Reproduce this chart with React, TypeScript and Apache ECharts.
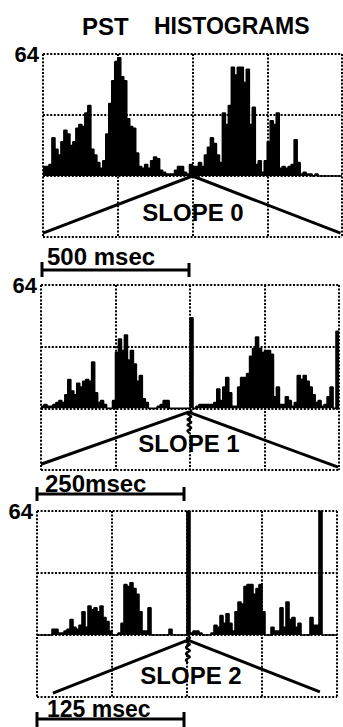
import React, { useEffect, useRef } from "react";
import * as echarts from "echarts";

// Post-stimulus-time histograms: 100 bins per sweep, counts 0..64
const BIN_COUNT = 100;
const Y_MAX = 64;

const slope0Counts = [
  5, 5, 6, 20, 14, 11, 18, 24, 22, 16,
  18, 25, 27, 26, 33, 37, 14, 11, 7, 4,
  8, 22, 38, 50, 60, 62, 52, 50, 30, 26,
  25, 12, 5, 4, 6, 4, 8, 10, 9, 3,
  2, 1, 1, 1, 3, 5, 5, 2, 1, 6,
  5, 5, 7, 5, 11, 15, 20, 17, 11, 7,
  33, 27, 37, 57, 53, 57, 57, 49, 56, 27,
  36, 6, 8, 2, 8, 18, 29, 27, 33, 4,
  5, 4, 5, 6, 19, 7, 1, 2, 1, 1,
  0, 1, 0, 0, 0, 0, 0, 0, 0, 0,
];

const slope1Counts = [
  1, 2, 1, 1, 2, 3, 4, 3, 7, 15,
  9, 7, 13, 11, 14, 15, 14, 24, 8, 3,
  4, 2, 0, 0, 4, 29, 36, 30, 38, 25,
  30, 23, 14, 17, 5, 3, 0, 0, 0, 1,
  2, 4, 4, 0, 0, 0, 0, 0, 0, 0,
  47, 0, 1, 2, 2, 2, 2, 2, 3, 10,
  4, 11, 16, 8, 1, 1, 11, 16, 16, 18,
  27, 31, 37, 31, 29, 30, 30, 28, 6, 11,
  2, 2, 6, 4, 1, 3, 17, 15, 17, 14,
  11, 7, 3, 4, 1, 2, 6, 11, 0, 40,
];

const slope2Counts = [
  0, 0, 0, 0, 0, 3, 3, 1, 1, 2,
  3, 8, 4, 3, 5, 12, 4, 15, 13, 14,
  12, 15, 9, 7, 2, 0, 0, 1, 6, 26,
  25, 27, 24, 21, 12, 2, 2, 14, 0, 0,
  0, 0, 0, 0, 3, 0, 0, 0, 0, 0,
  64, 1, 2, 2, 1, 0, 0, 0, 1, 5,
  4, 10, 6, 11, 6, 2, 12, 17, 16, 25,
  26, 26, 21, 24, 26, 12, 0, 0, 4, 2,
  2, 14, 4, 17, 8, 9, 4, 6, 0, 0,
  0, 9, 5, 5, 64, 0, 0, 0, 0, 0,
];

// Stimulus waveform traces drawn below each histogram (bin, level)
const slope0Ramp = [[0, -30], [50, 0], [99.5, -30]];
const slope1Ramp = [[0, -29], [49.5, -2], [99.7, -30.5]];
const slope2Ramp = [[5.3, -30], [50.3, -2.6], [94.3, -29.4]];

// Break marks at the sweep midpoint: [bin, depth]
const slope1Break = [49.8, 13];
const slope2Break = [50.3, 14.5];

const slopeLabels = ["SLOPE 0", "SLOPE 1", "SLOPE 2"];
const timeBarLabels = ["500 msec", "250msec", "125 msec"];

const FONT = '"Liberation Sans", Arial, sans-serif';
const INK = "#000";

const panelGrids = [
  { left: 43, top: 54, width: 299, height: 183 },
  { left: 41, top: 285, width: 298, height: 185 },
  { left: 37, top: 511, width: 300, height: 186 },
];

const dotted = { color: INK, width: 2, type: [2, 1.6] as number[] };

function histData(counts: number[]) {
  const pts = counts.map((v, i) => [i, v]);
  pts.push([BIN_COUNT, counts[counts.length - 1]]);
  return pts;
}

function zigzag(mark: number[]) {
  const [cx, depth] = mark;
  const steps = 9;
  const pts: number[][] = [];
  for (let k = 0; k <= steps; k++) {
    const dx = k === 0 || k === steps ? 0 : k % 2 ? 0.75 : -0.75;
    pts.push([cx + dx, -(depth * k) / steps]);
  }
  return pts;
}

function textEl(text: string, x: number, y: number, size: number, align: string) {
  return {
    type: "text",
    style: {
      text,
      x,
      y,
      font: `bold ${size}px ${FONT}`,
      fill: INK,
      align,
      verticalAlign: "middle",
      textAlign: align,
      textVerticalAlign: "middle",
    },
  };
}

function lineEl(x1: number, y1: number, x2: number, y2: number) {
  return {
    type: "line",
    shape: { x1, y1, x2, y2 },
    style: { stroke: INK, lineWidth: 3 },
  };
}

export default function App() {
  const ref = useRef<HTMLDivElement>(null);

  useEffect(() => {
    if (!ref.current) return;
    const chart = echarts.init(ref.current, null, { renderer: "svg" });

    const countsList = [slope0Counts, slope1Counts, slope2Counts];
    const ramps = [slope0Ramp, slope1Ramp, slope2Ramp];
    const breaks = [null, slope1Break, slope2Break];

    const xAxis = panelGrids.map((_, i) => ({
      type: "value",
      gridIndex: i,
      min: 0,
      max: BIN_COUNT,
      interval: 25,
      axisLine: { show: false },
      axisTick: { show: false },
      axisLabel: { show: false },
      splitLine: { show: true, lineStyle: dotted },
    }));

    const yAxis = panelGrids.map((_, i) => ({
      type: "value",
      gridIndex: i,
      min: -32,
      max: Y_MAX,
      interval: 32,
      axisLine: { show: false },
      axisTick: { show: false },
      axisLabel: {
        show: true,
        formatter: (v: number) => (v === Y_MAX ? String(Y_MAX) : ""),
        color: INK,
        fontSize: 22,
        fontWeight: "bold",
        fontFamily: FONT,
        margin: 4,
        padding: [6, 0, 0, 0],
      },
      splitLine: { show: true, lineStyle: dotted },
    }));

    const series: any[] = [];
    countsList.forEach((counts, i) => {
      series.push({
        type: "line",
        xAxisIndex: i,
        yAxisIndex: i,
        step: "end",
        data: histData(counts),
        symbol: "none",
        lineStyle: { color: INK, width: 1.6 },
        areaStyle: { color: INK, opacity: 1, origin: 0 },
        z: 3,
      });
      series.push({
        type: "line",
        xAxisIndex: i,
        yAxisIndex: i,
        data: ramps[i],
        symbol: "none",
        lineStyle: { color: INK, width: 3 },
        z: 4,
      });
      const br = breaks[i];
      if (br) {
        series.push({
          type: "line",
          xAxisIndex: i,
          yAxisIndex: i,
          data: zigzag(br),
          symbol: "none",
          lineStyle: { color: INK, width: 2.2 },
          z: 5,
        });
      }
    });

    const graphic: any[] = [
      textEl("PST", 82, 26, 24, "left"),
      textEl("HISTOGRAMS", 154, 26, 23, "left"),
      textEl(slopeLabels[0], 193, 212, 24, "center"),
      textEl(slopeLabels[1], 189, 443, 24, "center"),
      textEl(slopeLabels[2], 191, 675, 24, "center"),
      textEl(timeBarLabels[0], 47, 256, 24, "left"),
      textEl(timeBarLabels[1], 45, 483, 24, "left"),
      textEl(timeBarLabels[2], 47, 709, 23, "left"),
      lineEl(42, 270, 189, 270),
      lineEl(42, 262, 42, 277),
      lineEl(189, 263, 189, 277),
      lineEl(37, 494, 184, 494),
      lineEl(37, 487, 37, 501),
      lineEl(184, 487, 184, 501),
      lineEl(37, 719, 184, 719),
      lineEl(37, 712, 37, 727),
      lineEl(184, 712, 184, 727),
    ];

    chart.setOption({
      animation: false,
      backgroundColor: "#fff",
      grid: panelGrids,
      xAxis,
      yAxis,
      series,
      graphic,
    });

    return () => chart.dispose();
  }, []);

  return (
    <div
      ref={ref}
      style={{ position: "fixed", left: 0, top: 0, width: 343, height: 727, background: "#fff" }}
    />
  );
}
